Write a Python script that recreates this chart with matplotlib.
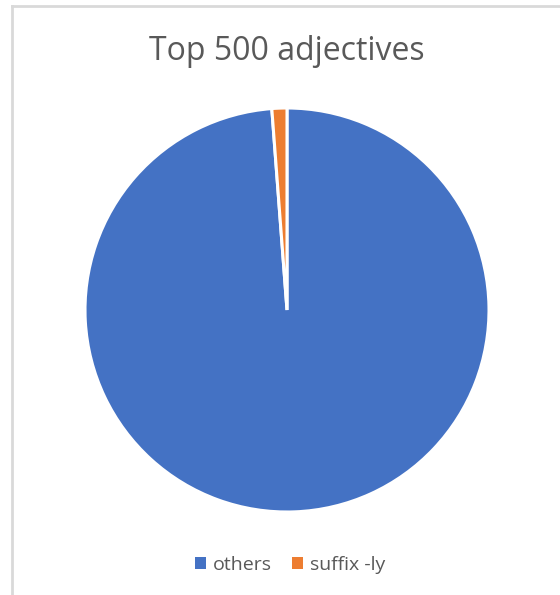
import matplotlib
matplotlib.use('Agg')
import matplotlib.pyplot as plt
from matplotlib.lines import Line2D

categories = ['others', 'suffix -ly']
counts = [494, 6]
colors = ['#4472C4', '#ED7D31']
title = 'Top 500 adjectives'

plt.rcParams['font.family'] = ['Open Sans', 'DejaVu Sans']

W, H = 560, 595
fig = plt.figure(figsize=(W / 100, H / 100), dpi=100)

# chart area frame (runs off the right and bottom edges)
fig.add_artist(Line2D([12 / W, 12 / W], [0, 1 - 6 / H], color='#d9d9d9', lw=2))
fig.add_artist(Line2D([12 / W, 1], [1 - 6 / H, 1 - 6 / H], color='#d9d9d9', lw=2))

# pie centered at (287, 310), radius ~202 px
r = 202
cx, cy = 287, 310
ax = fig.add_axes([(cx - r) / W, 1 - (cy + r) / H, 2 * r / W, 2 * r / H])
wedges, _ = ax.pie(counts, colors=colors, startangle=90, counterclock=False,
                   wedgeprops=dict(edgecolor='white', linewidth=2.2))
ax.set_xlim(-1.0, 1.0)
ax.set_ylim(-1.0, 1.0)
ax.set_aspect('equal')

fig.text(287 / W, 1 - 52 / H, title, ha='center', va='center',
         fontsize=23, color='#595959')

leg = fig.legend(wedges, categories, loc='center', bbox_to_anchor=(290 / W, 1 - 565 / H),
                 ncol=2, frameon=False, fontsize=14, labelcolor='#595959',
                 handlelength=0.6, handleheight=0.6, handletextpad=0.35, columnspacing=1.0)
for h in leg.legend_handles:
    h.set_linewidth(0)

fig.savefig('out.png', dpi=100)
